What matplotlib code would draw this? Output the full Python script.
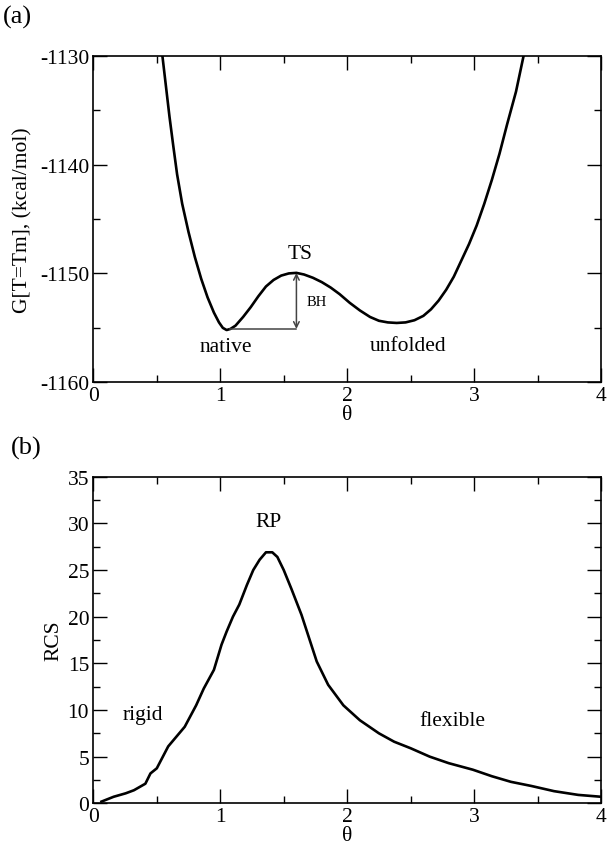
import matplotlib.pyplot as plt
from matplotlib.ticker import MultipleLocator

plt.rcParams['font.family'] = ['Liberation Serif', 'DejaVu Serif']
plt.rcParams['axes.unicode_minus'] = False

# (a) free energy profile at T = Tm
theta_a = [0.544, 0.57, 0.60, 0.63, 0.66, 0.70, 0.75, 0.80, 0.85, 0.90, 0.95,
           0.99, 1.02, 1.05, 1.08, 1.12, 1.18, 1.24, 1.30, 1.36, 1.42, 1.48,
           1.54, 1.60, 1.66, 1.73, 1.80, 1.87, 1.94, 2.02, 2.10, 2.18, 2.25,
           2.32, 2.39, 2.46, 2.53, 2.60, 2.66, 2.72, 2.78, 2.84, 2.90, 2.96,
           3.02, 3.08, 3.14, 3.20, 3.26, 3.33, 3.39]
g_a = [-1130.0, -1132.6, -1135.6, -1138.3, -1140.9, -1143.6, -1146.2, -1148.5,
       -1150.5, -1152.2, -1153.6, -1154.5, -1155.0, -1155.2, -1155.1, -1154.8,
       -1154.0, -1153.1, -1152.1, -1151.2, -1150.6, -1150.2, -1150.0, -1149.95,
       -1150.1, -1150.4, -1150.8, -1151.3, -1151.9, -1152.7, -1153.4, -1154.0,
       -1154.35, -1154.5, -1154.55, -1154.5, -1154.3, -1153.9, -1153.3, -1152.5,
       -1151.5, -1150.3, -1148.8, -1147.3, -1145.6, -1143.6, -1141.4, -1139.0,
       -1136.3, -1133.3, -1130.0]

# (b) RCS vs theta
theta_b = [0.064, 0.16, 0.255, 0.32, 0.41, 0.45, 0.50, 0.59, 0.72, 0.81, 0.87,
           0.95, 1.01, 1.05, 1.10, 1.15, 1.21, 1.26, 1.31, 1.36, 1.41, 1.45, 1.50,
           1.56, 1.64, 1.70, 1.76, 1.85, 1.97, 2.10, 2.25, 2.37, 2.50, 2.65, 2.80,
           2.99, 3.14, 3.29, 3.45, 3.63, 3.82, 4.0]
rcs_b = [0.18, 0.7, 1.07, 1.4, 2.1, 3.2, 3.75, 6.1, 8.2, 10.5, 12.3, 14.3, 17.0,
         18.4, 20.0, 21.3, 23.4, 25.0, 26.1, 26.9, 26.9, 26.4, 25.0, 23.0, 20.2,
         17.7, 15.2, 12.7, 10.5, 8.9, 7.5, 6.6, 5.9, 5.0, 4.3, 3.6, 2.9, 2.3,
         1.86, 1.3, 0.9, 0.7]

fig = plt.figure(figsize=(6.12, 8.54), dpi=100)
ax1 = fig.add_axes([0.1525, 0.5512, 0.8296, 0.3824])
ax2 = fig.add_axes([0.1525, 0.0582, 0.8296, 0.3824])

fs = 15.5

ax1.plot(theta_a, g_a, color='black', lw=1.9)
ax1.set_xlim(0, 4)
ax1.set_ylim(-1160, -1130)
ax1.set_xlabel('θ', fontsize=fs, labelpad=0)
ax1.set_ylabel('G[T=Tm], (kcal/mol)', fontsize=fs, labelpad=5)
ax1.annotate('', xy=(1.6, -1149.95), xytext=(1.6, -1155.1),
             arrowprops=dict(arrowstyle='<->', color='#444444', lw=1.1,
                             shrinkA=0, shrinkB=0))
ax1.plot([1.08, 1.6], [-1155.1, -1155.1], color='#444444', lw=1.1)
ax1.text(1.63, -1148.2, 'TS', fontsize=fs, ha='center', va='center')
ax1.text(1.76, -1152.6, 'BH', fontsize=10.5, ha='center', va='center')
ax1.text(1.04, -1156.75, 'native', fontsize=fs, ha='center', va='center')
ax1.text(2.48, -1156.6, 'unfolded', fontsize=fs, ha='center', va='center')
fig.text(0.005, 0.980, '(a)', fontsize=19, ha='left', va='center')

ax2.plot(theta_b, rcs_b, color='black', lw=1.9)
ax2.set_xlim(0, 4)
ax2.set_ylim(0, 35)
ax2.set_xlabel('θ', fontsize=fs, labelpad=0)
ax2.set_ylabel('RCS', fontsize=fs, labelpad=3)
ax2.text(1.38, 30.2, 'RP', fontsize=fs, ha='center', va='center')
ax2.text(0.39, 9.5, 'rigid', fontsize=fs, ha='center', va='center')
ax2.text(2.83, 8.9, 'flexible', fontsize=fs, ha='center', va='center')
fig.text(0.018, 0.4754, '(b)', fontsize=19, ha='left', va='center')

ax1.yaxis.set_major_locator(MultipleLocator(10))
ax1.yaxis.set_minor_locator(MultipleLocator(5))
ax2.yaxis.set_major_locator(MultipleLocator(5))
ax2.yaxis.set_minor_locator(MultipleLocator(2.5))
for ax in (ax1, ax2):
    ax.xaxis.set_major_locator(MultipleLocator(1))
    ax.xaxis.set_minor_locator(MultipleLocator(0.5))
    ax.tick_params(which='both', direction='in', top=True, right=True,
                   labelsize=fs, pad=3)
    ax.tick_params(which='major', length=10, width=1)
    ax.tick_params(which='minor', length=5, width=1)
    for s in ax.spines.values():
        s.set_linewidth(1.2)

fig.savefig('out.png', dpi=100)
